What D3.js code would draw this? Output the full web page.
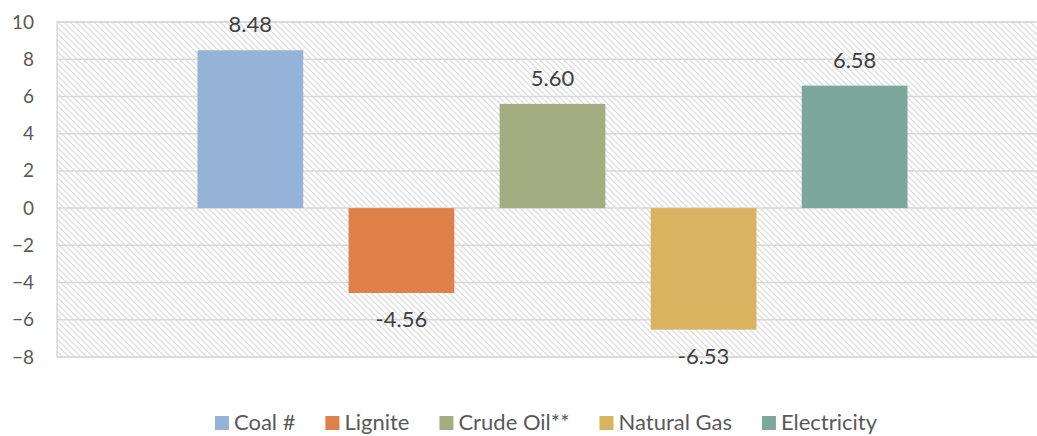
<!DOCTYPE html>
<html>
<head>
<meta charset="utf-8">
<script src="https://cdn.jsdelivr.net/npm/d3@7"></script>
<style>
  body { margin: 0; background: #fff; }
  svg { display: block; font-family: Lato, "Open Sans", sans-serif; }
</style>
</head>
<body>
<div id="container"></div>
<script>
// chart data
var series = ["Coal #", "Lignite", "Crude Oil**", "Natural Gas", "Electricity"];
var values = [8.48, -4.56, 5.60, -6.53, 6.58];
var colors = ["#95B3D7", "#DF8048", "#A4AC82", "#D9B360", "#7BA89B"];
var yTicks = [-8, -6, -4, -2, 0, 2, 4, 6, 8, 10];

var width = 1037, height = 436;
var plot = {left: 57, right: 1048, top: 22, bottom: 357};

var svg = d3.select("#container").append("svg")
    .attr("width", width)
    .attr("height", height);

// hatched background like the excel "light downward diagonal" fill
var defs = svg.append("defs");
var pat = defs.append("pattern")
    .attr("id", "hatch")
    .attr("patternUnits", "userSpaceOnUse")
    .attr("width", 6)
    .attr("height", 6);
pat.append("rect").attr("width", 6).attr("height", 6).attr("fill", "#fff");
pat.append("path")
    .attr("d", "M-1,-1 L7,7 M-1,5 L1,7 M5,-1 L7,1")
    .attr("stroke", "#dedede")
    .attr("stroke-width", 1.3);

var y = d3.scaleLinear()
    .domain([-8, 10])
    .range([plot.bottom, plot.top]);

var x = d3.scaleBand()
    .domain(series)
    .range([plot.left, plot.right])
    .paddingInner(0.3)
    .paddingOuter(0.93);

svg.append("rect")
    .attr("x", plot.left)
    .attr("y", plot.top)
    .attr("width", plot.right - plot.left)
    .attr("height", plot.bottom - plot.top)
    .attr("fill", "url(#hatch)")
    .attr("stroke", "#d9d9d9")
    .attr("stroke-width", 1.5);

// gridlines
svg.append("g").selectAll("line")
    .data(yTicks)
    .enter().append("line")
    .attr("x1", plot.left)
    .attr("x2", plot.right)
    .attr("y1", function(d) { return y(d); })
    .attr("y2", function(d) { return y(d); })
    .attr("stroke", "#d9d9d9")
    .attr("stroke-width", 1.5);

// y axis labels
var yAxis = d3.axisLeft(y).tickValues(yTicks).tickSize(0).tickPadding(0);
var ya = svg.append("g")
    .attr("transform", "translate(34,0)")
    .call(yAxis);
ya.select(".domain").remove();
ya.selectAll("text")
    .attr("fill", "#595959")
    .style("font-size", "19px")
    .style("font-family", "Lato, 'Open Sans', sans-serif");

// bars
svg.append("g").selectAll("rect")
    .data(values)
    .enter().append("rect")
    .attr("x", function(d, i) { return x(series[i]); })
    .attr("width", x.bandwidth())
    .attr("y", function(d) { return y(Math.max(0, d)); })
    .attr("height", function(d) { return Math.abs(y(d) - y(0)); })
    .attr("fill", function(d, i) { return colors[i]; });

// value labels
svg.append("g").selectAll("text")
    .data(values)
    .enter().append("text")
    .attr("x", function(d, i) { return x(series[i]) + x.bandwidth() / 2; })
    .attr("y", function(d) { return d >= 0 ? y(d) - 18 : y(d) + 34; })
    .attr("text-anchor", "middle")
    .attr("fill", "#404040")
    .style("font-size", "22px")
    .text(function(d) { return d.toFixed(2); });

// legend (kept a little above the bottom edge so descenders are not cut)
var legend = svg.append("g").attr("transform", "translate(0,430)");
var items = legend.selectAll("g")
    .data(series)
    .enter().append("g");
items.append("rect")
    .attr("y", -14)
    .attr("width", 14)
    .attr("height", 14)
    .attr("fill", function(d, i) { return colors[i]; });
items.append("text")
    .attr("x", 19)
    .attr("fill", "#595959")
    .style("font-size", "22px")
    .text(function(d) { return d; });

var pos = [];
var cur = 0;
items.each(function() {
    var w = 19 + d3.select(this).select("text").node().getComputedTextLength();
    pos.push(cur);
    cur += w + 30;
});
var total = cur - 30;
var start = 546 - total / 2;
items.attr("transform", function(d, i) { return "translate(" + (start + pos[i]) + ",0)"; });
</script>
</body>
</html>
